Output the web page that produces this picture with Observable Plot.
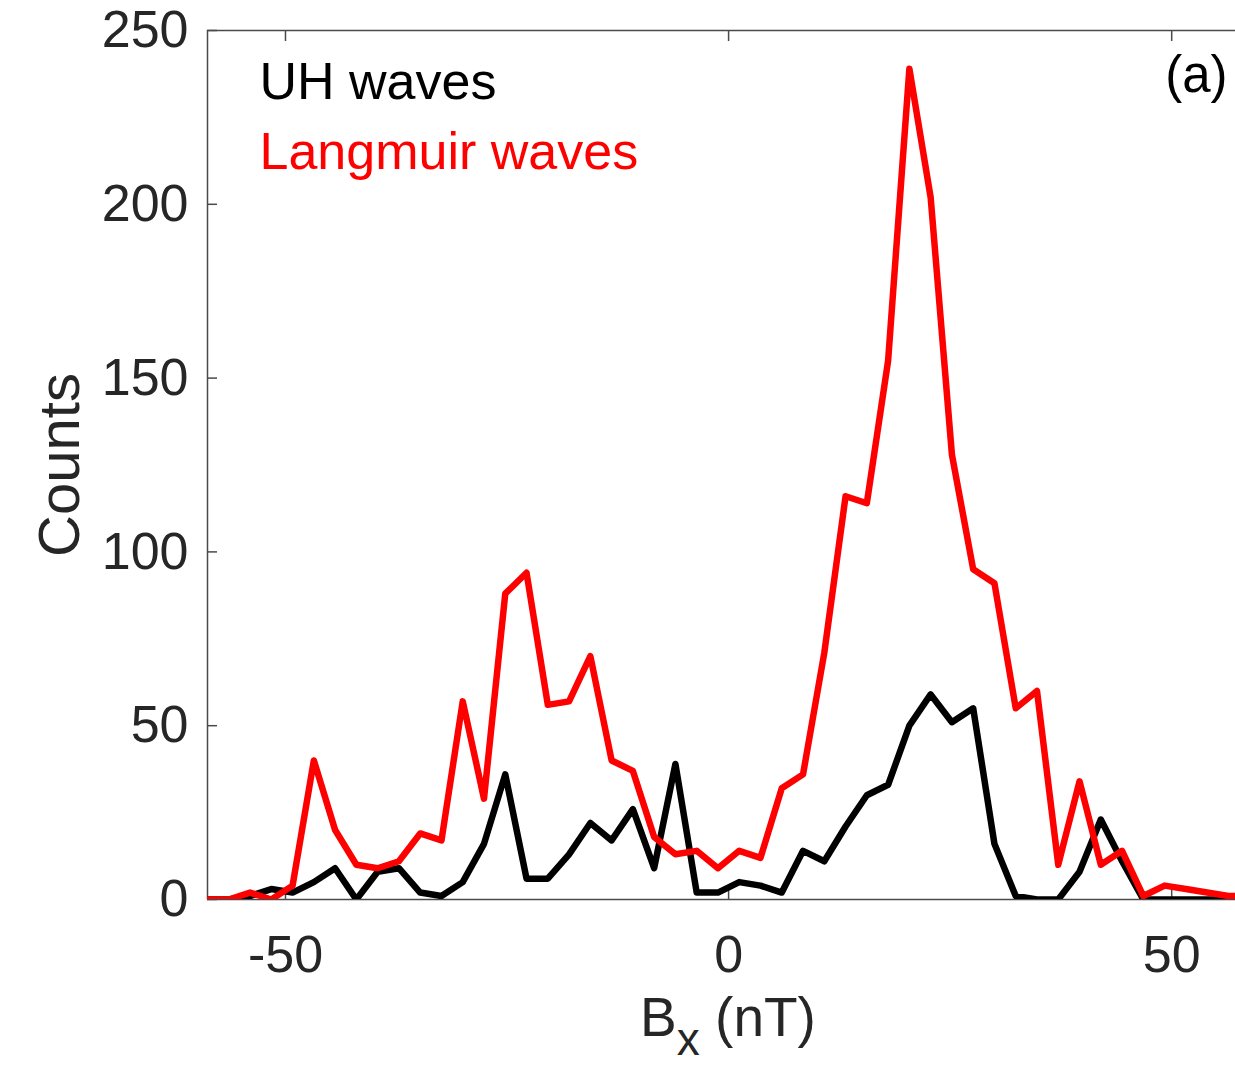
<!DOCTYPE html>
<html>
<head>
<meta charset="utf-8">
<script src="https://cdn.jsdelivr.net/npm/d3@7"></script>
<script src="https://cdn.jsdelivr.net/npm/@observablehq/plot@0.6"></script>
<style>
  html, body { margin: 0; padding: 0; background: #fff; }
  #chart { width: 1235px; height: 1067px; overflow: hidden; }
</style>
</head>
<body>
<div id="chart"></div>
<script>
// Bin centres of B_x (nT)
const bx = [-58.8, -56.4, -54.0, -51.6, -49.2, -46.8, -44.4, -42.0, -39.6, -37.2,
            -34.8, -32.4, -30.0, -27.6, -25.2, -22.8, -20.4, -18.0, -15.6, -13.2,
            -10.8, -8.4, -6.0, -3.6, -1.2, 1.2, 3.6, 6.0, 8.4, 10.8,
            13.2, 15.6, 18.0, 20.4, 22.8, 25.2, 27.6, 30.0, 32.4, 34.8,
            37.2, 39.6, 42.0, 44.4, 46.8, 49.2, 51.6, 54.0, 56.4, 58.8];
// UH waves counts
const uhCounts = [0, 0, 1, 3, 2, 5, 9, 0, 8, 9,
                  2, 1, 5, 16, 36, 6, 6, 13, 22, 17,
                  26, 9, 39, 2, 2, 5, 4, 2, 14, 11,
                  21, 30, 33, 50, 59, 51, 55, 16, 1, 0,
                  0, 8, 23, 11, 0, 0, 0, 0, 0, 0];
// Langmuir waves counts
const langmuirCounts = [0, 0, 2, 0, 4, 40, 20, 10, 9, 11,
                        19, 17, 57, 29, 88, 94, 56, 57, 70, 40,
                        37, 18, 13, 14, 9, 14, 12, 32, 36, 71,
                        116, 114, 155, 239, 202, 128, 95, 91, 55, 60,
                        10, 34, 10, 14, 1, 4, 3, 2, 1, 1];
const seriesNames = ["UH waves", "Langmuir waves"];
const seriesColors = ["#000000", "#ff0000"];
const xTicks = [-50, 0, 50];
const yTicks = [0, 50, 100, 150, 200, 250];
const xDomain = [-58.8, 57.2];
const yDomain = [0, 250];
const xLabel = ["B", "x", " (nT)"];
const yLabel = "Counts";
const panelTag = "(a)";

const uh = bx.map((x, i) => ({x, y: uhCounts[i]}));
const lw = bx.map((x, i) => ({x, y: langmuirCounts[i]}));

const font = "Liberation Sans, Arial, Helvetica, sans-serif";
const axisColor = "#4a4a4a";
const textColor = "#262626";

const plot = Plot.plot({
  width: 1235,
  height: 1067,
  marginLeft: 207,
  marginRight: 0,
  marginTop: 30,
  marginBottom: 168,
  style: {fontFamily: font, background: "#fff", overflow: "visible"},
  x: {domain: xDomain, ticks: xTicks},
  y: {domain: yDomain, ticks: yTicks},
  marks: [
    // frame lines
    Plot.ruleY([yDomain[0]], {stroke: axisColor, strokeWidth: 1.5}),
    Plot.ruleY([yDomain[1]], {stroke: axisColor, strokeWidth: 1.5}),
    Plot.ruleX([xDomain[0]], {stroke: axisColor, strokeWidth: 1.5}),
    // axes
    Plot.axisX(xTicks, {anchor: "bottom", tickSize: -10, tickPadding: 46, fontSize: 52,
      fill: textColor, stroke: axisColor, strokeWidth: 1.5, tickFormat: d => String(d), label: null}),
    Plot.axisX(xTicks, {anchor: "top", tickSize: -10, text: null, stroke: axisColor, strokeWidth: 1.5, label: null}),
    Plot.axisY(yTicks, {anchor: "left", tickSize: -10, tickPadding: 29, fontSize: 52,
      fill: textColor, stroke: axisColor, strokeWidth: 1.5, tickFormat: d => String(d), label: null}),
    // data
    Plot.line(uh, {x: "x", y: "y", stroke: seriesColors[0], strokeWidth: 6.5, strokeLinejoin: "round", clip: true}),
    Plot.line(lw, {x: "x", y: "y", stroke: seriesColors[1], strokeWidth: 6.5, strokeLinejoin: "round", clip: true}),
    // legend text
    Plot.text([seriesNames[0]], {frameAnchor: "top-left", dx: 52, dy: 68, lineAnchor: "bottom",
      textAnchor: "start", fontSize: 52, fill: seriesColors[0]}),
    Plot.text([seriesNames[1]], {frameAnchor: "top-left", dx: 52, dy: 138, lineAnchor: "bottom",
      textAnchor: "start", fontSize: 52, fill: seriesColors[1]}),
    Plot.text([panelTag], {frameAnchor: "top-right", dx: -8, dy: 61, lineAnchor: "bottom",
      textAnchor: "end", fontSize: 51, fill: "#000"}),
    // y label
    Plot.text([yLabel], {frameAnchor: "left", rotate: -90, dx: -129, lineAnchor: "bottom",
      textAnchor: "middle", fontSize: 58, fill: textColor})
  ]
});

document.getElementById("chart").appendChild(plot);

// x label with subscript
const svg = d3.select(plot);
const t = svg.append("text")
  .attr("x", 728)
  .attr("y", 1036)
  .attr("text-anchor", "middle")
  .attr("font-family", font)
  .attr("fill", textColor)
  .attr("font-size", 55);
t.append("tspan").text(xLabel[0]);
t.append("tspan").attr("dy", 19).attr("font-size", 46).text(xLabel[1]);
t.append("tspan").attr("dy", -19).text(xLabel[2]);
</script>
</body>
</html>
